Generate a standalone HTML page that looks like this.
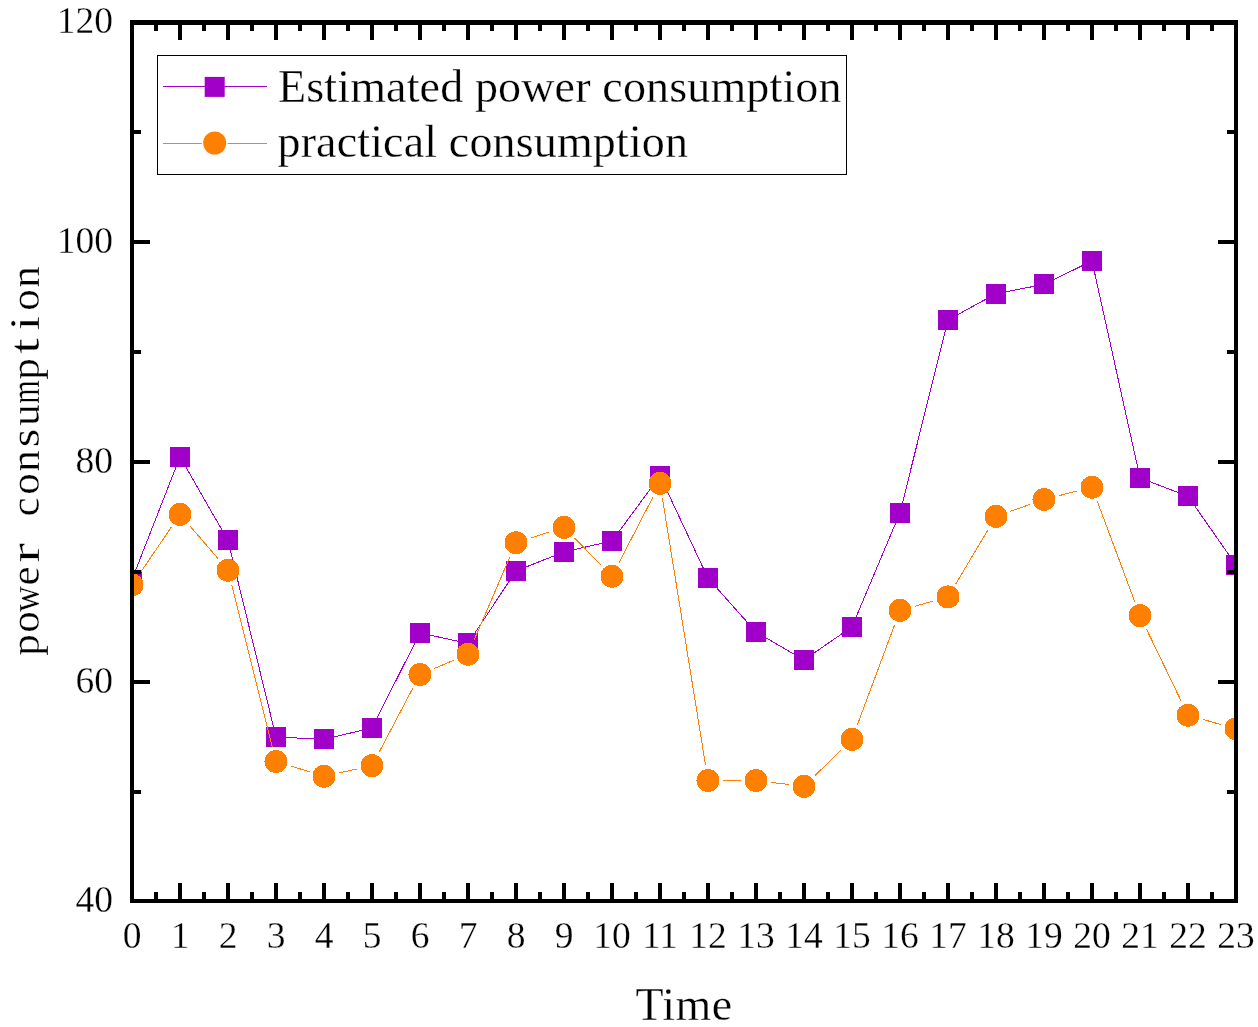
<!DOCTYPE html>
<html><head><meta charset="utf-8"><style>
html,body{margin:0;padding:0;background:#fff;}
body{width:1258px;height:1027px;overflow:hidden;}
svg{display:block;will-change:transform;}
text{font-family:"Liberation Serif", serif;fill:#000;stroke:#fff;stroke-width:0.3px;}
</style></head><body>
<svg width="1258" height="1027" viewBox="0 0 1258 1027">
<rect x="0" y="0" width="1258" height="1027" fill="#fff"/>
<defs><clipPath id="pc"><rect x="134" y="25" width="1100" height="874"/></clipPath></defs>
<g clip-path="url(#pc)">
<polyline points="132,579.5 180,456.9 228,540.5 276,737 324,739.3 372,727.9 420,633 468,643.4 516,571 564,551.9 612,541 660,475.9 708,578.2 756,632 804,660 852,626.8 900,512.8 948,319.9 996,293.7 1044,284.4 1092,260.9 1140,477.9 1188,496.3 1236,565" fill="none" stroke="#A000C8" stroke-width="1.0" shape-rendering="crispEdges"/>
<rect x="122" y="570" width="20" height="20" fill="#A000C8"/>
<rect x="170" y="447" width="20" height="20" fill="#A000C8"/>
<rect x="218" y="530" width="20" height="20" fill="#A000C8"/>
<rect x="266" y="727" width="20" height="20" fill="#A000C8"/>
<rect x="314" y="729" width="20" height="20" fill="#A000C8"/>
<rect x="362" y="718" width="20" height="20" fill="#A000C8"/>
<rect x="410" y="623" width="20" height="20" fill="#A000C8"/>
<rect x="458" y="633" width="20" height="20" fill="#A000C8"/>
<rect x="506" y="561" width="20" height="20" fill="#A000C8"/>
<rect x="554" y="542" width="20" height="20" fill="#A000C8"/>
<rect x="602" y="531" width="20" height="20" fill="#A000C8"/>
<rect x="650" y="466" width="20" height="20" fill="#A000C8"/>
<rect x="698" y="568" width="20" height="20" fill="#A000C8"/>
<rect x="746" y="622" width="20" height="20" fill="#A000C8"/>
<rect x="794" y="650" width="20" height="20" fill="#A000C8"/>
<rect x="842" y="617" width="20" height="20" fill="#A000C8"/>
<rect x="890" y="503" width="20" height="20" fill="#A000C8"/>
<rect x="938" y="310" width="20" height="20" fill="#A000C8"/>
<rect x="986" y="284" width="20" height="20" fill="#A000C8"/>
<rect x="1034" y="274" width="20" height="20" fill="#A000C8"/>
<rect x="1082" y="251" width="20" height="20" fill="#A000C8"/>
<rect x="1130" y="468" width="20" height="20" fill="#A000C8"/>
<rect x="1178" y="486" width="20" height="20" fill="#A000C8"/>
<rect x="1226" y="555" width="20" height="20" fill="#A000C8"/>
<path d="M140.55,572.43L171.45,526.97M189.91,525.92L218.09,558.68M231.70,584.94L272.30,746.76M290.53,765.95L309.47,771.75M338.85,772.95L357.15,768.95M379.08,752.25L412.92,687.95M434.00,668.58L454.00,660.12M474.01,640.24L509.99,556.76M530.46,538.13L549.54,531.97M574.65,538.15L601.35,565.35M618.98,562.70L653.02,496.90M662.42,498.41L705.58,765.49M723.20,780.50L740.80,780.50M771.09,782.35L788.91,784.55M814.85,775.75L841.15,749.95M857.30,725.06L894.70,624.64M914.63,606.28L933.37,601.02M955.78,583.84L988.22,529.46M1010.34,511.35L1029.66,504.55M1058.72,495.73L1077.28,490.97M1097.32,501.44L1134.68,601.46M1146.60,629.39L1181.40,701.51M1202.62,719.34L1221.38,724.66" fill="none" stroke="#FF8000" stroke-width="1.0" shape-rendering="crispEdges"/>
<circle cx="132" cy="585" r="11.5" fill="#FF8000" shape-rendering="crispEdges"/>
<circle cx="180" cy="514.4" r="11.5" fill="#FF8000" shape-rendering="crispEdges"/>
<circle cx="228" cy="570.2" r="11.5" fill="#FF8000" shape-rendering="crispEdges"/>
<circle cx="276" cy="761.5" r="11.5" fill="#FF8000" shape-rendering="crispEdges"/>
<circle cx="324" cy="776.2" r="11.5" fill="#FF8000" shape-rendering="crispEdges"/>
<circle cx="372" cy="765.7" r="11.5" fill="#FF8000" shape-rendering="crispEdges"/>
<circle cx="420" cy="674.5" r="11.5" fill="#FF8000" shape-rendering="crispEdges"/>
<circle cx="468" cy="654.2" r="11.5" fill="#FF8000" shape-rendering="crispEdges"/>
<circle cx="516" cy="542.8" r="11.5" fill="#FF8000" shape-rendering="crispEdges"/>
<circle cx="564" cy="527.3" r="11.5" fill="#FF8000" shape-rendering="crispEdges"/>
<circle cx="612" cy="576.2" r="11.5" fill="#FF8000" shape-rendering="crispEdges"/>
<circle cx="660" cy="483.4" r="11.5" fill="#FF8000" shape-rendering="crispEdges"/>
<circle cx="708" cy="780.5" r="11.5" fill="#FF8000" shape-rendering="crispEdges"/>
<circle cx="756" cy="780.5" r="11.5" fill="#FF8000" shape-rendering="crispEdges"/>
<circle cx="804" cy="786.4" r="11.5" fill="#FF8000" shape-rendering="crispEdges"/>
<circle cx="852" cy="739.3" r="11.5" fill="#FF8000" shape-rendering="crispEdges"/>
<circle cx="900" cy="610.4" r="11.5" fill="#FF8000" shape-rendering="crispEdges"/>
<circle cx="948" cy="596.9" r="11.5" fill="#FF8000" shape-rendering="crispEdges"/>
<circle cx="996" cy="516.4" r="11.5" fill="#FF8000" shape-rendering="crispEdges"/>
<circle cx="1044" cy="499.5" r="11.5" fill="#FF8000" shape-rendering="crispEdges"/>
<circle cx="1092" cy="487.2" r="11.5" fill="#FF8000" shape-rendering="crispEdges"/>
<circle cx="1140" cy="615.7" r="11.5" fill="#FF8000" shape-rendering="crispEdges"/>
<circle cx="1188" cy="715.2" r="11.5" fill="#FF8000" shape-rendering="crispEdges"/>
<circle cx="1236" cy="728.8" r="11.5" fill="#FF8000" shape-rendering="crispEdges"/>
</g>
<g fill="#000">
<rect x="130" y="20" width="4" height="883"/>
<rect x="1234" y="20" width="4" height="883"/>
<rect x="130" y="20" width="1108" height="5"/>
<rect x="130" y="899" width="1108" height="4"/>
<rect x="178" y="883" width="4" height="16"/><rect x="178" y="25" width="4" height="15"/>
<rect x="226" y="883" width="4" height="16"/><rect x="226" y="25" width="4" height="15"/>
<rect x="274" y="883" width="4" height="16"/><rect x="274" y="25" width="4" height="15"/>
<rect x="322" y="883" width="4" height="16"/><rect x="322" y="25" width="4" height="15"/>
<rect x="370" y="883" width="4" height="16"/><rect x="370" y="25" width="4" height="15"/>
<rect x="418" y="883" width="4" height="16"/><rect x="418" y="25" width="4" height="15"/>
<rect x="466" y="883" width="4" height="16"/><rect x="466" y="25" width="4" height="15"/>
<rect x="514" y="883" width="4" height="16"/><rect x="514" y="25" width="4" height="15"/>
<rect x="562" y="883" width="4" height="16"/><rect x="562" y="25" width="4" height="15"/>
<rect x="610" y="883" width="4" height="16"/><rect x="610" y="25" width="4" height="15"/>
<rect x="658" y="883" width="4" height="16"/><rect x="658" y="25" width="4" height="15"/>
<rect x="706" y="883" width="4" height="16"/><rect x="706" y="25" width="4" height="15"/>
<rect x="754" y="883" width="4" height="16"/><rect x="754" y="25" width="4" height="15"/>
<rect x="802" y="883" width="4" height="16"/><rect x="802" y="25" width="4" height="15"/>
<rect x="850" y="883" width="4" height="16"/><rect x="850" y="25" width="4" height="15"/>
<rect x="898" y="883" width="4" height="16"/><rect x="898" y="25" width="4" height="15"/>
<rect x="946" y="883" width="4" height="16"/><rect x="946" y="25" width="4" height="15"/>
<rect x="994" y="883" width="4" height="16"/><rect x="994" y="25" width="4" height="15"/>
<rect x="1042" y="883" width="4" height="16"/><rect x="1042" y="25" width="4" height="15"/>
<rect x="1090" y="883" width="4" height="16"/><rect x="1090" y="25" width="4" height="15"/>
<rect x="1138" y="883" width="4" height="16"/><rect x="1138" y="25" width="4" height="15"/>
<rect x="1186" y="883" width="4" height="16"/><rect x="1186" y="25" width="4" height="15"/>
<rect x="154" y="892" width="4" height="7"/><rect x="154" y="25" width="4" height="6"/>
<rect x="202" y="892" width="4" height="7"/><rect x="202" y="25" width="4" height="6"/>
<rect x="250" y="892" width="4" height="7"/><rect x="250" y="25" width="4" height="6"/>
<rect x="298" y="892" width="4" height="7"/><rect x="298" y="25" width="4" height="6"/>
<rect x="346" y="892" width="4" height="7"/><rect x="346" y="25" width="4" height="6"/>
<rect x="394" y="892" width="4" height="7"/><rect x="394" y="25" width="4" height="6"/>
<rect x="442" y="892" width="4" height="7"/><rect x="442" y="25" width="4" height="6"/>
<rect x="490" y="892" width="4" height="7"/><rect x="490" y="25" width="4" height="6"/>
<rect x="538" y="892" width="4" height="7"/><rect x="538" y="25" width="4" height="6"/>
<rect x="586" y="892" width="4" height="7"/><rect x="586" y="25" width="4" height="6"/>
<rect x="634" y="892" width="4" height="7"/><rect x="634" y="25" width="4" height="6"/>
<rect x="682" y="892" width="4" height="7"/><rect x="682" y="25" width="4" height="6"/>
<rect x="730" y="892" width="4" height="7"/><rect x="730" y="25" width="4" height="6"/>
<rect x="778" y="892" width="4" height="7"/><rect x="778" y="25" width="4" height="6"/>
<rect x="826" y="892" width="4" height="7"/><rect x="826" y="25" width="4" height="6"/>
<rect x="874" y="892" width="4" height="7"/><rect x="874" y="25" width="4" height="6"/>
<rect x="922" y="892" width="4" height="7"/><rect x="922" y="25" width="4" height="6"/>
<rect x="970" y="892" width="4" height="7"/><rect x="970" y="25" width="4" height="6"/>
<rect x="1018" y="892" width="4" height="7"/><rect x="1018" y="25" width="4" height="6"/>
<rect x="1066" y="892" width="4" height="7"/><rect x="1066" y="25" width="4" height="6"/>
<rect x="1114" y="892" width="4" height="7"/><rect x="1114" y="25" width="4" height="6"/>
<rect x="1162" y="892" width="4" height="7"/><rect x="1162" y="25" width="4" height="6"/>
<rect x="1210" y="892" width="4" height="7"/><rect x="1210" y="25" width="4" height="6"/>
<rect x="134" y="130" width="7" height="4"/><rect x="1227" y="130" width="7" height="4"/>
<rect x="134" y="240" width="16" height="4"/><rect x="1218" y="240" width="16" height="4"/>
<rect x="134" y="350" width="7" height="4"/><rect x="1227" y="350" width="7" height="4"/>
<rect x="134" y="460" width="16" height="4"/><rect x="1218" y="460" width="16" height="4"/>
<rect x="134" y="570" width="7" height="4"/><rect x="1227" y="570" width="7" height="4"/>
<rect x="134" y="680" width="16" height="4"/><rect x="1218" y="680" width="16" height="4"/>
<rect x="134" y="790" width="7" height="4"/><rect x="1227" y="790" width="7" height="4"/>
</g>
<g font-size="37.5">
<text x="132" y="948" text-anchor="middle">0</text>
<text x="180" y="948" text-anchor="middle">1</text>
<text x="228" y="948" text-anchor="middle">2</text>
<text x="276" y="948" text-anchor="middle">3</text>
<text x="324" y="948" text-anchor="middle">4</text>
<text x="372" y="948" text-anchor="middle">5</text>
<text x="420" y="948" text-anchor="middle">6</text>
<text x="468" y="948" text-anchor="middle">7</text>
<text x="516" y="948" text-anchor="middle">8</text>
<text x="564" y="948" text-anchor="middle">9</text>
<text x="612" y="948" text-anchor="middle">10</text>
<text x="660" y="948" text-anchor="middle">11</text>
<text x="708" y="948" text-anchor="middle">12</text>
<text x="756" y="948" text-anchor="middle">13</text>
<text x="804" y="948" text-anchor="middle">14</text>
<text x="852" y="948" text-anchor="middle">15</text>
<text x="900" y="948" text-anchor="middle">16</text>
<text x="948" y="948" text-anchor="middle">17</text>
<text x="996" y="948" text-anchor="middle">18</text>
<text x="1044" y="948" text-anchor="middle">19</text>
<text x="1092" y="948" text-anchor="middle">20</text>
<text x="1140" y="948" text-anchor="middle">21</text>
<text x="1188" y="948" text-anchor="middle">22</text>
<text x="1236" y="948" text-anchor="middle">23</text>
<text x="113" y="33" text-anchor="end">120</text>
<text x="113" y="253" text-anchor="end">100</text>
<text x="113" y="473" text-anchor="end">80</text>
<text x="113" y="693" text-anchor="end">60</text>
<text x="113" y="912" text-anchor="end">40</text>
</g>
<text x="684" y="1020" font-size="46" letter-spacing="0.4" text-anchor="middle">Time</text>
<g transform="translate(39,0) rotate(-90)" font-size="43" text-anchor="middle"><g transform="translate(-645,0) scale(1.000,1)"><text x="0" y="0">p</text></g><g transform="translate(-622,0) scale(1.000,1)"><text x="0" y="0">o</text></g><g transform="translate(-599,0) scale(0.833,1)"><text x="0" y="0">w</text></g><g transform="translate(-576,0) scale(1.000,1)"><text x="0" y="0">e</text></g><g transform="translate(-553,0) scale(1.400,1)"><text x="0" y="0">r</text></g><g transform="translate(-507,0) scale(1.000,1)"><text x="0" y="0">c</text></g><g transform="translate(-484,0) scale(1.000,1)"><text x="0" y="0">o</text></g><g transform="translate(-461,0) scale(1.000,1)"><text x="0" y="0">n</text></g><g transform="translate(-438,0) scale(1.100,1)"><text x="0" y="0">s</text></g><g transform="translate(-415,0) scale(1.000,1)"><text x="0" y="0">u</text></g><g transform="translate(-392,0) scale(0.700,1)"><text x="0" y="0">m</text></g><g transform="translate(-369,0) scale(1.000,1)"><text x="0" y="0">p</text></g><g transform="translate(-346,0) scale(1.300,1)"><text x="0" y="0">t</text></g><g transform="translate(-323,0) scale(1.200,1)"><text x="0" y="0">i</text></g><g transform="translate(-300,0) scale(1.000,1)"><text x="0" y="0">o</text></g><g transform="translate(-277,0) scale(1.000,1)"><text x="0" y="0">n</text></g></g>
<rect x="157.5" y="55.5" width="689" height="119" fill="none" stroke="#000" stroke-width="1"/>
<line x1="163" y1="86.5" x2="267" y2="86.5" stroke="#A000C8" stroke-width="1.0"/>
<rect x="204.7" y="76.9" width="20" height="20" fill="#A000C8"/>
<line x1="163" y1="143.5" x2="201.7" y2="143.5" stroke="#FF8000" stroke-width="1.0"/>
<line x1="227.7" y1="143.5" x2="267" y2="143.5" stroke="#FF8000" stroke-width="1.0"/>
<circle cx="214.7" cy="143" r="11.5" fill="#FF8000"/>
<text x="278" y="101.5" font-size="46" letter-spacing="0.15">Estimated power consumption</text>
<text x="277.5" y="157.3" font-size="46" letter-spacing="0.15">practical consumption</text>
</svg>
</body></html>
